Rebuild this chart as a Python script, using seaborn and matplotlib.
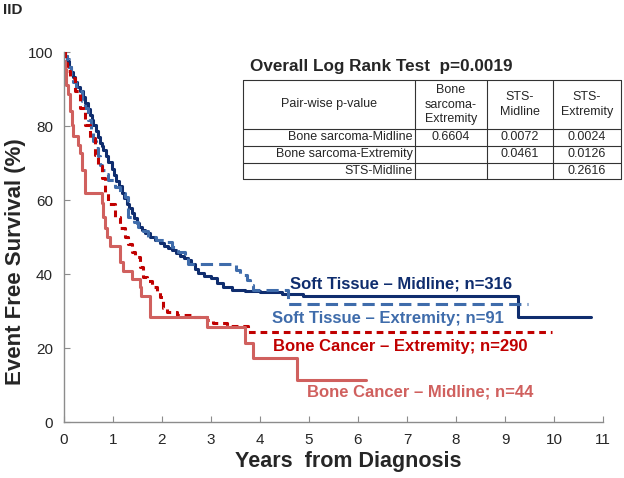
import matplotlib
matplotlib.use("Agg")
import matplotlib.pyplot as plt
import pandas as pd
import seaborn as sns

# Kaplan-Meier curves (years, event free survival %)
st_mid_t = [0, 0.02, 0.06, 0.1, 0.14, 0.18, 0.22, 0.27, 0.33, 0.38, 0.43, 0.48, 0.53, 0.57,
            0.60, 0.65, 0.69, 0.73, 0.77, 0.80, 0.85, 0.90, 0.97, 1.02, 1.07, 1.12, 1.18,
            1.23, 1.28, 1.33, 1.38, 1.43, 1.49, 1.54, 1.59, 1.66, 1.75, 1.86, 1.95, 2.05,
            2.13, 2.20, 2.28, 2.37, 2.45, 2.54, 2.60, 2.67, 2.74, 2.85, 3.01, 3.12, 3.25,
            3.42, 3.7, 4.0, 4.45, 4.88, 9.27, 10.75]
st_mid_s = [100, 99, 97.5, 96, 94.5, 93.2, 92, 90.6, 89.5, 87.8, 86.2, 84.6, 83, 81.6,
            80.4, 78.6, 77, 75.5, 74.5, 73.5, 71.8, 70.2, 68.5, 66.8, 65.2, 63.8, 62,
            60.5, 59, 57.8, 56.5, 55.2, 53.8, 52.8, 52, 51, 50.1, 49.2, 48.4, 47.5,
            47, 46.5, 45.7, 45, 44.4, 43.8, 42.6, 41.4, 40.2, 39.5, 38.9, 37.6, 36.5,
            35.7, 35.5, 35.1, 34.7, 34.1, 28.3, 28.3]

st_ext_t = [0, 0.03, 0.06, 0.1, 0.14, 0.19, 0.25, 0.29, 0.36, 0.42, 0.49, 0.55, 0.60, 0.65,
            0.70, 0.73, 0.78, 0.84, 0.90, 1.04, 1.14, 1.24, 1.31, 1.42, 1.51, 1.61, 1.72,
            1.88, 2.05, 2.20, 2.33, 2.47, 2.53, 3.52, 3.59, 3.73, 3.80, 3.85, 4.57, 9.47]
st_ext_s = [100, 99, 98, 96, 94, 92, 90.5, 89.4, 86.8, 85, 81.7, 79, 76, 74,
            72, 69.5, 68, 67, 65.4, 63.6, 62, 60.9, 55.5, 54, 52.8, 51.5, 50.1,
            49.2, 48.7, 47.4, 46, 44.7, 42.6, 41.1, 39.8, 38.4, 37, 35.7, 32.0, 32.0]

bc_ext_t = [0, 0.02, 0.06, 0.12, 0.22, 0.33, 0.43, 0.53, 0.63, 0.70, 0.77, 0.84, 0.90, 1.04,
            1.14, 1.24, 1.31, 1.38, 1.45, 1.55, 1.62, 1.70, 1.80, 1.89, 1.96, 2.03, 2.10,
            2.30, 2.64, 2.91, 3.04, 3.32, 3.76, 9.95]
bc_ext_s = [100, 97, 95, 93, 89.5, 85, 80.4, 76.8, 72.2, 69.2, 66, 62, 59, 55.5,
            52.5, 50.1, 48, 46, 44.7, 42, 39.3, 38, 36.5, 35.5, 33.8, 30.8, 29.8,
            28.9, 28.4, 27.6, 26.8, 25.9, 24.4, 24.4]

bc_mid_t = [0, 0.02, 0.05, 0.09, 0.13, 0.16, 0.19, 0.29, 0.33, 0.36, 0.43, 0.77, 0.80, 0.84,
            0.87, 0.94, 1.14, 1.21, 1.38, 1.55, 1.58, 1.76, 2.91, 3.69, 3.86, 4.76, 6.17]
bc_mid_s = [97.7, 95.5, 91, 88.6, 84, 80.4, 77.3, 75, 72.7, 68.2, 62, 59.1, 55.5, 52.3,
            50, 47.7, 43.2, 40.9, 38.6, 36.4, 34.1, 28.5, 25.8, 21.3, 17.3, 11.4, 11.4]

series_names = ["Soft Tissue \u2013 Midline; n=316", "Soft Tissue \u2013 Extremity; n=91",
                "Bone Cancer \u2013 Extremity; n=290", "Bone Cancer \u2013 Midline; n=44"]

# pair-wise log rank table
col_labels = ["Bone\nsarcoma-\nExtremity", "STS-\nMidline", "STS-\nExtremity"]
row_labels = ["Bone sarcoma-Midline", "Bone sarcoma-Extremity", "STS-Midline"]
pvals = [["0.6604", "0.0072", "0.0024"],
         ["", "0.0461", "0.0126"],
         ["", "", "0.2616"]]

navy = "#0f2d6e"
steel = "#3f6cab"
dred = "#c00000"
lred = "#d0605e"

sns.set_style("white")
plt.rcParams["font.family"] = ["Liberation Sans", "DejaVu Sans"]

fig = plt.figure(figsize=(6.24, 4.78), dpi=100)
ax = fig.add_axes([64 / 624, 56 / 478, 539 / 624, 370 / 478])

curves = [
    (st_mid_t, st_mid_s, navy, None),
    (st_ext_t, st_ext_s, steel, (4.0, 2.0)),
    (bc_ext_t, bc_ext_s, dred, (2.2, 1.6)),
    (bc_mid_t, bc_mid_s, lred, None),
]
for t, s, c, dash in curves:
    df = pd.DataFrame({"years": t, "efs": s})
    sns.lineplot(data=df, x="years", y="efs", ax=ax, color=c, linewidth=2.2,
                 drawstyle="steps-post", estimator=None, sort=False)
    if dash is not None:
        ax.lines[-1].set_dashes(dash)

# curve labels
label_pos = [(4.61, 37.3), (4.24, 28.1), (4.26, 20.3), (4.96, 8.2)]
for name, (x, y), c in zip(series_names, label_pos, [navy, steel, dred, lred]):
    ax.text(x, y, name, color=c, fontsize=12, fontweight="bold", ha="left", va="center")

ax.set_xlim(0, 11)
ax.set_ylim(0, 100)
ax.set_xticks(range(0, 12))
ax.set_yticks(range(0, 101, 20))
sns.despine(ax=ax)
for sp in ["left", "bottom"]:
    ax.spines[sp].set_color("#8c8c8c")
    ax.spines[sp].set_linewidth(1.0)
ax.tick_params(direction="in", length=4, color="#8c8c8c", labelsize=11, pad=8,
               bottom=True, left=True)
ax.set_xlabel("Years  from Diagnosis", fontsize=15.5, fontweight="bold")
ax.xaxis.set_label_coords((348 - 64) / 539, -29 / 370)
ax.set_ylabel("Event Free Survival (%)", fontsize=16, fontweight="bold")
ax.yaxis.set_label_coords(-38 / 539, (422 - 262) / 370)

fig.text(3 / 624, 1 - 10 / 478, "IID", fontsize=11, fontweight="bold", va="center")

# table drawn in pixel coordinates of the figure
tx0, tx1, ty0, ty1 = 243, 621, 80, 179
tax = fig.add_axes([tx0 / 624, 1 - ty1 / 478, (tx1 - tx0) / 624, (ty1 - ty0) / 478])
tax.set_xlim(tx0, tx1)
tax.set_ylim(ty1, ty0)
tax.axis("off")
col_x = [tx0, 415, 487, 553, tx1]
row_y = [ty0, 129, 146, 162.5, ty1]
for yy in row_y:
    tax.plot([tx0, tx1], [yy, yy], color="#333333", lw=0.8, clip_on=False)
for xx in col_x:
    tax.plot([xx, xx], [ty0, ty1], color="#333333", lw=0.8, clip_on=False)
tax.text((col_x[0] + col_x[1]) / 2, (row_y[0] + row_y[1]) / 2, "Pair-wise p-value",
         ha="center", va="center", fontsize=9)
for j, lab in enumerate(col_labels):
    tax.text((col_x[j + 1] + col_x[j + 2]) / 2, (row_y[0] + row_y[1]) / 2, lab,
             ha="center", va="center", fontsize=9, linespacing=1.25)
for i, lab in enumerate(row_labels):
    yc = (row_y[i + 1] + row_y[i + 2]) / 2
    tax.text(col_x[1] - 2, yc, lab, ha="right", va="center", fontsize=9)
    for j, v in enumerate(pvals[i]):
        tax.text((col_x[j + 1] + col_x[j + 2]) / 2, yc, v, ha="center", va="center", fontsize=9)

fig.text(250 / 624, 1 - 66 / 478, "Overall Log Rank Test  p=0.0019", fontsize=12.3,
         fontweight="bold", ha="left", va="center")

fig.savefig("out.png", dpi=100)
